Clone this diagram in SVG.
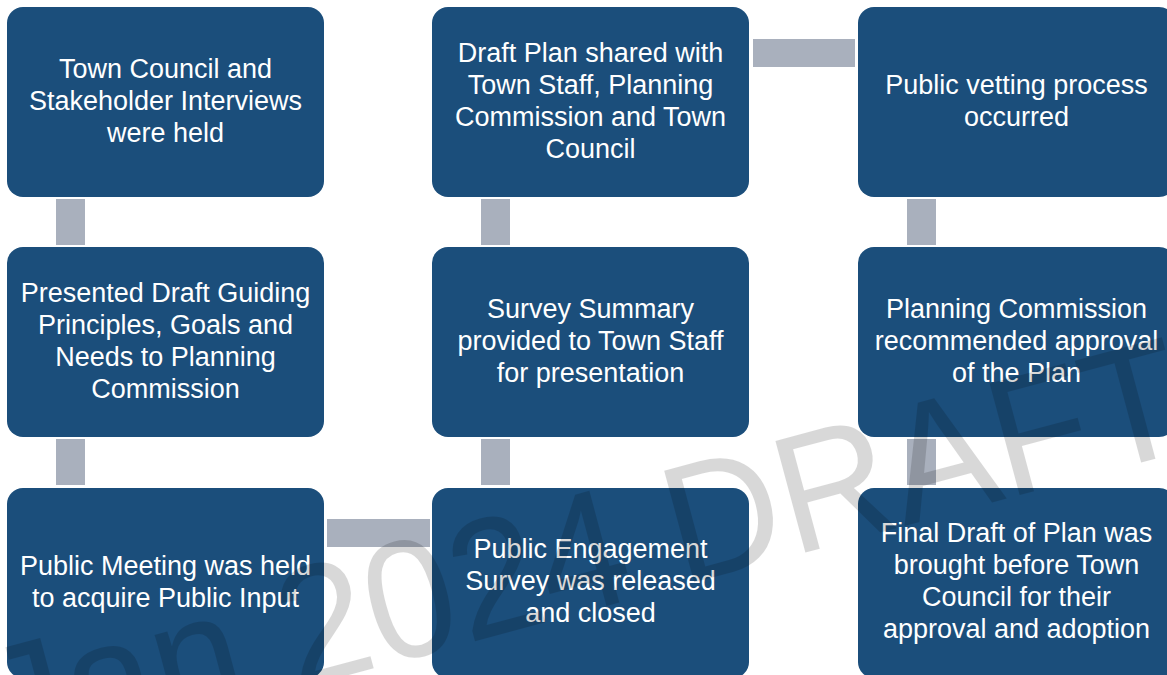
<svg xmlns="http://www.w3.org/2000/svg" width="1167" height="675" viewBox="0 0 1167 675">
  <style>
    .box { fill: #1b4e7b; }
    .lbl { fill: #ffffff; font-family: "Liberation Sans", Arial, sans-serif; font-size: 27px; text-anchor: middle; }
    .link { fill: #a9b0bd; }
    .wm { font-family: "Liberation Sans", Arial, sans-serif; font-size: 168px; fill: #000; }
  </style>
  <rect width="1167" height="675" fill="#ffffff"/>

  <!-- connectors between the steps -->
  <g id="connectors">
    <rect class="link" x="56" y="199" width="29" height="46"/>
    <rect class="link" x="56" y="439" width="29" height="46"/>
    <rect class="link" x="327" y="519" width="103" height="28"/>
    <rect class="link" x="481" y="439" width="29" height="46"/>
    <rect class="link" x="481" y="199" width="29" height="46"/>
    <rect class="link" x="753" y="39" width="102" height="28"/>
    <rect class="link" x="907" y="199" width="29" height="46"/>
    <rect class="link" x="907" y="439" width="29" height="46"/>
  </g>

  <!-- column 1 -->
  <g id="step-interviews">
    <rect class="box" x="7" y="7" width="317" height="190" rx="16"/>
    <text class="lbl" x="165.5" y="78">Town Council and</text>
    <text class="lbl" x="165.5" y="110">Stakeholder Interviews</text>
    <text class="lbl" x="165.5" y="142">were held</text>
  </g>
  <g id="step-guiding-principles">
    <rect class="box" x="7" y="247" width="317" height="190" rx="16"/>
    <text class="lbl" x="165.5" y="302">Presented Draft Guiding</text>
    <text class="lbl" x="165.5" y="334">Principles, Goals and</text>
    <text class="lbl" x="165.5" y="366">Needs to Planning</text>
    <text class="lbl" x="165.5" y="398">Commission</text>
  </g>
  <g id="step-public-meeting">
    <rect class="box" x="7" y="488" width="317" height="190" rx="16"/>
    <text class="lbl" x="165.5" y="575">Public Meeting was held</text>
    <text class="lbl" x="165.5" y="607">to acquire Public Input</text>
  </g>

  <!-- column 2 -->
  <g id="step-survey-released">
    <rect class="box" x="432" y="488" width="317" height="190" rx="16"/>
    <text class="lbl" x="590.5" y="558">Public Engagement</text>
    <text class="lbl" x="590.5" y="590">Survey was released</text>
    <text class="lbl" x="590.5" y="622">and closed</text>
  </g>
  <g id="step-survey-summary">
    <rect class="box" x="432" y="247" width="317" height="190" rx="16"/>
    <text class="lbl" x="590.5" y="318">Survey Summary</text>
    <text class="lbl" x="590.5" y="350">provided to Town Staff</text>
    <text class="lbl" x="590.5" y="382">for presentation</text>
  </g>
  <g id="step-draft-shared">
    <rect class="box" x="432" y="7" width="317" height="190" rx="16"/>
    <text class="lbl" x="590.5" y="62">Draft Plan shared with</text>
    <text class="lbl" x="590.5" y="94">Town Staff, Planning</text>
    <text class="lbl" x="590.5" y="126">Commission and Town</text>
    <text class="lbl" x="590.5" y="158">Council</text>
  </g>

  <!-- column 3 -->
  <g id="step-public-vetting">
    <rect class="box" x="858" y="7" width="317" height="190" rx="16"/>
    <text class="lbl" x="1016.5" y="94">Public vetting process</text>
    <text class="lbl" x="1016.5" y="126">occurred</text>
  </g>
  <g id="step-commission-approval">
    <rect class="box" x="858" y="247" width="317" height="190" rx="16"/>
    <text class="lbl" x="1016.5" y="318">Planning Commission</text>
    <text class="lbl" x="1016.5" y="350">recommended approval</text>
    <text class="lbl" x="1016.5" y="382">of the Plan</text>
  </g>
  <g id="step-council-adoption">
    <rect class="box" x="858" y="488" width="317" height="190" rx="16"/>
    <text class="lbl" x="1016.5" y="542">Final Draft of Plan was</text>
    <text class="lbl" x="1016.5" y="574">brought before Town</text>
    <text class="lbl" x="1016.5" y="606">Council for their</text>
    <text class="lbl" x="1016.5" y="638">approval and adoption</text>
  </g>

  <!-- diagonal draft watermark over the page -->
  <g id="watermark" opacity="0.15" transform="translate(4.4 767.2) rotate(-15) scale(0.95 1)">
    <text class="wm" x="0" y="0">Jan 2024 DRAFT</text>
  </g>
</svg>
